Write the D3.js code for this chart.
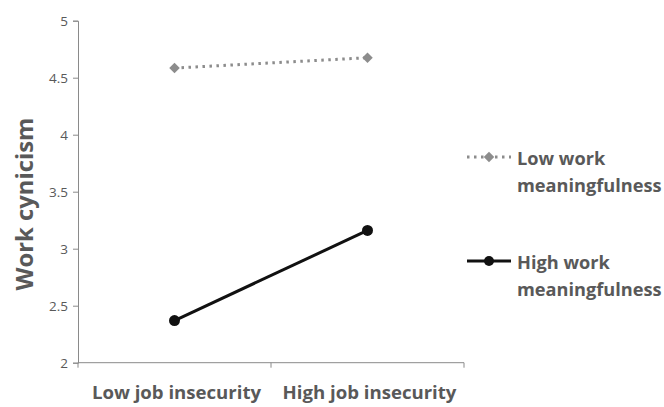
<!DOCTYPE html>
<html><head><meta charset="utf-8">
<script src="https://cdn.jsdelivr.net/npm/d3@7"></script>
<style>body{margin:0;background:#fff}svg{display:block}</style>
</head><body>
<svg id="c" width="664" height="407"></svg>
<script>
const categories = ["Low job insecurity", "High job insecurity"];
const seriesNames = ["Low work meaningfulness", "High work meaningfulness"];
const lowMeaning = [4.585, 4.675];
const highMeaning = [2.37, 3.16];
const yTicks = [2, 2.5, 3, 3.5, 4, 4.5, 5];
const yTitle = "Work cynicism";

const svg = d3.select("#c");
const font = "'Open Sans', 'Liberation Sans', sans-serif";
const L = 78, R = 464, T = 20.7, B = 362.7;
const x = d3.scaleBand().domain(categories).range([L, R]);
const y = d3.scaleLinear().domain([2, 5]).range([B, T]);
const axisColor = "#8a8a8a", textColor = "#595959";

// y axis
const ya = svg.append("g").attr("transform", `translate(${L},0)`)
  .call(d3.axisLeft(y).tickValues(yTicks).tickSize(5).tickFormat(d => String(d)));
ya.select(".domain").attr("stroke", axisColor);
ya.selectAll(".tick line").attr("stroke", axisColor);
ya.selectAll(".tick text").attr("fill", textColor).attr("font-family", font).attr("font-size", 13.5).attr("x", -10);

// x axis
const xa = svg.append("g").attr("transform", `translate(0,${B})`)
  .call(d3.axisBottom(x).tickSize(0).tickFormat(""));
xa.select(".domain").attr("stroke", axisColor).attr("d", `M${L},0H${R}`);
xa.selectAll(".tick").remove();
[L, L + x.bandwidth(), R].forEach(px => {
  xa.append("line").attr("x1", px).attr("x2", px).attr("y1", 0).attr("y2", 5).attr("stroke", axisColor);
});
categories.forEach(c => {
  svg.append("text").attr("x", x(c) + x.bandwidth() / 2 + 2).attr("y", 398.5)
    .attr("text-anchor", "middle").attr("font-family", font).attr("font-weight", "bold")
    .attr("font-size", 18.6).attr("fill", textColor).text(c);
});

// y title
svg.append("text").attr("transform", `translate(33,204) rotate(-90)`)
  .attr("text-anchor", "middle").attr("font-family", font).attr("font-weight", "bold")
  .attr("font-size", 23.8).attr("fill", textColor).text(yTitle);

const cx = c => x(c) + x.bandwidth() / 2;
const line = d3.line().x((d, i) => cx(categories[i])).y(d => y(d));

// low meaningfulness (dotted gray, diamonds)
const gray = "#8c8c8c";
svg.append("path").datum(lowMeaning).attr("d", line).attr("fill", "none")
  .attr("stroke", gray).attr("stroke-width", 3).attr("stroke-dasharray", "2.5,4.5").attr("stroke-linecap", "butt");
const diamond = d3.symbol().type(d3.symbolDiamond2).size(70);
svg.selectAll(".dm").data(lowMeaning).join("path")
  .attr("transform", (d, i) => `translate(${cx(categories[i])},${y(d)})`)
  .attr("d", diamond).attr("fill", gray);

// high meaningfulness (solid black, circles)
svg.append("path").datum(highMeaning).attr("d", line).attr("fill", "none")
  .attr("stroke", "#111").attr("stroke-width", 3);
svg.selectAll(".cm").data(highMeaning).join("circle")
  .attr("cx", (d, i) => cx(categories[i])).attr("cy", d => y(d)).attr("r", 5.5).attr("fill", "#111");

// legend
const lg = svg.append("g");
const legendRows = [
  { name: seriesNames[0], y: 157, lines: ["Low work", "meaningfulness"] },
  { name: seriesNames[1], y: 261, lines: ["High work", "meaningfulness"] }
];
lg.append("line").attr("x1", 467).attr("x2", 511).attr("y1", legendRows[0].y).attr("y2", legendRows[0].y)
  .attr("stroke", gray).attr("stroke-width", 3).attr("stroke-dasharray", "2.5,4.5");
lg.append("path").attr("transform", `translate(489,${legendRows[0].y})`).attr("d", diamond).attr("fill", gray);
lg.append("line").attr("x1", 467).attr("x2", 511).attr("y1", legendRows[1].y).attr("y2", legendRows[1].y)
  .attr("stroke", "#111").attr("stroke-width", 3);
lg.append("circle").attr("cx", 489).attr("cy", legendRows[1].y).attr("r", 5).attr("fill", "#111");
legendRows.forEach(r => {
  r.lines.forEach((t, i) => {
    lg.append("text").attr("x", 517).attr("y", r.y + 7.5 + i * 27.5).attr("font-family", font)
      .attr("font-weight", "bold").attr("font-size", 18.2).attr("fill", textColor).text(t);
  });
});
</script>
</body></html>
